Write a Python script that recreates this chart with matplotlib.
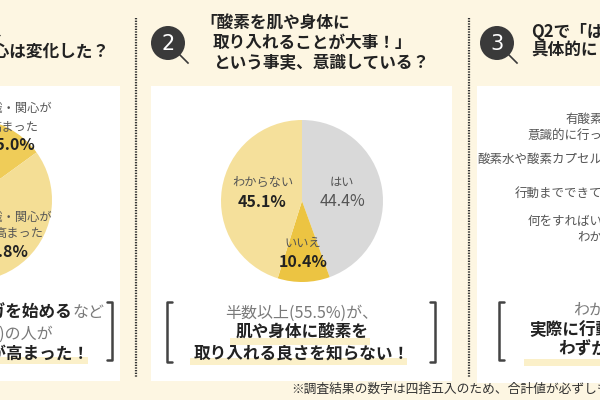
import matplotlib.pyplot as plt
from matplotlib.patches import Rectangle, Circle

plt.rcParams['font.family'] = ['Noto Sans CJK JP', 'DejaVu Sans']

# Q1 (left panel, mostly cut off by the crop)
q1_labels = ['とても意識・関心が高まった', 'やや意識・関心が高まった', '変わらない']
q1_values = [15.0, 45.8, 39.2]
q1_colors = ['#efcc58', '#f4de95', '#d9d9d9']

# Q2 (middle panel)
q2_labels = ['はい', 'いいえ', 'わからない']
q2_values = [44.4, 10.4, 45.1]
q2_colors = ['#d9d9d9', '#ecc442', '#f5e09b']

# Q3 (right panel, only category labels visible)
q3_labels = ['有酸素運動を\n意識的に行っている', '酸素水や酸素カプセルを利用',
             '行動までできていない', '何をすればいいのか\nわからない']

BG = '#fdf6e2'
DARK = '#3a3a3a'
GRAY = '#555555'
LIGHT = '#7a7a7a'

fig = plt.figure(figsize=(6, 4), dpi=100, facecolor=BG)

# background layer in pixel coords
bg = fig.add_axes([0, 0, 1, 1])
bg.set_xlim(0, 600)
bg.set_ylim(400, 0)
bg.axis('off')
for x0, x1, y0, y1 in [(-5, 120, 86, 381), (151, 452, 86, 381), (477, 605, 86, 383)]:
    bg.add_patch(Rectangle((x0, y0), x1 - x0, y1 - y0, color='white', lw=0))
# highlight bands under bold lines
for x0, x1, y0 in [(0, 88, 357), (230, 370, 338), (190, 407, 358), (524, 600, 359)]:
    bg.add_patch(Rectangle((x0, y0), x1 - x0, 7, color='#fbf0c9', lw=0))


def pie_axes(cx, cy, r):
    return fig.add_axes([(cx - r) / 600, (400 - cy - r) / 400, 2 * r / 600, 2 * r / 400])


ax1 = pie_axes(-29, 200, 81)
ax1.pie(q1_values, colors=q1_colors, startangle=90, counterclock=False,
        wedgeprops=dict(linewidth=0))
ax1.set_xlim(-1, 1)
ax1.set_ylim(-1, 1)

ax2 = pie_axes(302, 201, 81)
ax2.pie(q2_values, colors=q2_colors, startangle=90, counterclock=False,
        wedgeprops=dict(linewidth=0))
ax2.set_xlim(-1, 1)
ax2.set_ylim(-1, 1)

# Q3 labels as y tick labels of an axes lying right of the crop
ax3 = fig.add_axes([640 / 600, (400 - 243) / 400, 0.2, 136 / 400])
ax3.set_ylim(len(q3_labels) - 0.5, -0.5)
ax3.set_yticks(range(len(q3_labels)))
ax3.set_yticklabels(q3_labels, fontsize=9, color=GRAY, linespacing=1.4)
ax3.tick_params(length=0, pad=0)
ax3.set_xticks([])
for s in ax3.spines.values():
    s.set_visible(False)
ax3.patch.set_alpha(0)

# top text layer
ax = fig.add_axes([0, 0, 1, 1])
ax.set_xlim(0, 600)
ax.set_ylim(400, 0)
ax.axis('off')

# dotted separators
for x in [136, 469]:
    ax.plot([x, x], [18, 378], color='#333333', lw=1.6, linestyle=(0, (0.6, 0.6)))

# number badges
for cx, num in [(168, '2'), (497, '3')]:
    ax.add_patch(Circle((cx, 43), 17, color=DARK, lw=0))
    ax.plot([cx + 12, cx + 20], [55, 63], color=DARK, lw=1.2)
    ax.text(cx, 44, num, color='white', fontsize=15, ha='center', va='center',
            family='DejaVu Sans')

# titles
tkw = dict(fontsize=12, fontweight='bold', color='#222222', va='center')
ax.text(12, 32, '酸素に対するコロナ禍で、', ha='right', **tkw)
ax.text(110, 52, '意識・関心は変化した？', ha='right', **tkw)
ax.text(200, 24, '「酸素を肌や身体に', ha='left', **tkw)
ax.text(213, 43, '取り入れることが大事！」', ha='left', **tkw)
ax.text(213, 63, 'という事実、意識している？', ha='left', **tkw)
ax.text(531, 32, 'Q2で「はい」と答えた方へ', ha='left', **tkw)
ax.text(531, 51, '具体的にどんな行動をしている？', ha='left', **tkw)

# Q1 pie labels (line by line, label text cut at the crop edge)
lkw = dict(fontsize=8.8, color=GRAY, ha='right', va='center')
pkw = dict(fontsize=11.5, fontweight='bold', color='#222222', ha='right', va='center')
ax.text(52, 108, q1_labels[0][3:9], **lkw)
ax.text(38, 127, q1_labels[0][9:], **lkw)
ax.text(35, 145, f'{q1_values[0]:.1f}%', **pkw)
ax.text(52, 217, q1_labels[1][2:8], **lkw)
ax.text(43, 234, q1_labels[1][8:], **lkw)
ax.text(29, 252, f'{q1_values[1]:.1f}%', **pkw)

# Q2 pie labels
ckw = dict(fontsize=8.8, color=GRAY, ha='center', va='center')
ax.text(342, 182, q2_labels[0], **ckw)
ax.text(342, 202, f'{q2_values[0]:.1f}%', fontsize=11.5, color=GRAY, ha='center', va='center')
ax.text(303, 243, q2_labels[1], **ckw)
ax.text(303, 262, f'{q2_values[1]:.1f}%', fontsize=11.5, fontweight='bold', color='#222222',
        ha='center', va='center')
ax.text(263, 182, q2_labels[2], **ckw)
ax.text(262, 202, f'{q2_values[2]:.1f}%', fontsize=11.5, fontweight='bold', color='#222222',
        ha='center', va='center')


def bracket(x, y0, y1, d):
    ax.plot([x + d * 5, x, x, x + d * 5], [y0, y0, y1, y1], color='#444444', lw=1.8,
            solid_capstyle='round', solid_joinstyle='round')


bracket(112, 302, 360, -1)
bracket(167, 302, 362, 1)
bracket(435, 302, 362, -1)
bracket(499, 302, 360, 1)

bkw = dict(fontsize=12, fontweight='bold', color='#222222', va='center')
nkw = dict(fontsize=11.5, color=LIGHT, va='center')
# left summary
ax.text(72, 313, 'ヨガを始める', ha='right', **bkw)
ax.text(72, 313, 'など', ha='left', **nkw)
ax.text(53, 334, f'({q1_values[0] + q1_values[1]:.1f}%)の人が', ha='right', **nkw)
ax.text(90, 354, '意識・関心が高まった！', ha='right', **bkw)

# middle summary
ax.text(302, 313, f'半数以上({q2_values[1] + q2_values[2]:.1f}%)が、', ha='center', **nkw)
ax.text(302, 333, '肌や身体に酸素を', ha='center', **bkw)
ax.text(302, 354, '取り入れる良さを知らない！', ha='center', **bkw)

# right summary
ax.text(573, 310, 'わかっていても', ha='left', **nkw)
ax.text(529, 330, '実際に行動している人は', ha='left', **bkw)
ax.text(558, 350, 'わずか！', ha='left', **bkw)

ax.text(291, 389, '※調査結果の数字は四捨五入のため、合計値が必ずしも100%にならない場合があります。',
        ha='left', va='center', fontsize=9.2, color='#333333')

plt.savefig('out.png', dpi=100, facecolor=BG)
